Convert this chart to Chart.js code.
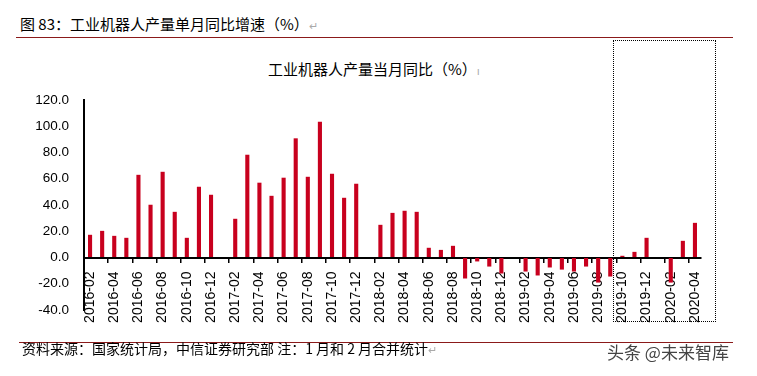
<!DOCTYPE html>
<html>
<head>
<meta charset="utf-8">
<script src="https://cdn.jsdelivr.net/npm/chart.js@4"></script>
<style>
  body { margin: 0; background: #fff; }
  #wrap { position: relative; width: 757px; height: 376px; overflow: hidden; font-family: "Noto Sans CJK SC", sans-serif; }
  #chartBox { position: absolute; left: 0; top: 0; width: 757px; height: 376px; }
  .txt { position: absolute; white-space: nowrap; color: #000; }
  .mark { color: #aaa; font-size: 11px; }
  .rule { position: absolute; height: 0; border-top: 1.5px solid #8b1a1a; }
</style>
</head>
<body>
<div id="wrap">
  <div class="txt" style="left:20px; top:13px; font-size:15px;">图 83：工业机器人产量单月同比增速（%）<span class="mark">↵</span></div>
  <div class="rule" style="left:16px; top:37px; width:717px;"></div>
  <div class="txt" style="left:268px; top:58px; font-size:15px;">工业机器人产量当月同比（%）<span class="mark">ı</span></div>
  <div style="position:absolute; left:613px; top:40px; width:101px; height:280px; border:1.5px dotted #000;"></div>
  <div id="chartBox"><canvas id="robotChart"></canvas></div>
  <div class="rule" style="left:19px; top:342px; width:714px;"></div>
  <div class="txt" style="left:22px; top:338px; font-size:14px;">资料来源：国家统计局，中信证券研究部 注：1 月和 2 月合并统计<span class="mark">↵</span></div>
  <div class="txt" style="left:607px; top:339px; font-size:17px; color:#444;">头条 @未来智库</div>
</div>
<script>
  // monthly categories, January merged into February (left empty)
  const months = [
    '2016-02','2016-03','2016-04','2016-05','2016-06','2016-07','2016-08','2016-09','2016-10','2016-11','2016-12',
    '2017-01','2017-02','2017-03','2017-04','2017-05','2017-06','2017-07','2017-08','2017-09','2017-10','2017-11','2017-12',
    '2018-01','2018-02','2018-03','2018-04','2018-05','2018-06','2018-07','2018-08','2018-09','2018-10','2018-11','2018-12',
    '2019-01','2019-02','2019-03','2019-04','2019-05','2019-06','2019-07','2019-08','2019-09','2019-10','2019-11','2019-12',
    '2020-01','2020-02','2020-03','2020-04'
  ];

  // 工业机器人产量当月同比 (%)
  const yoyGrowth = [
    17.3, 20.3, 16.5, 15.0, 63.0, 40.2, 65.3, 34.8, 15.0, 53.9, 47.8,
    null, 29.5, 78.3, 57.0, 47.0, 60.8, 90.8, 61.5, 103.5, 63.8, 45.5, 56.2,
    null, 24.9, 34.0, 35.6, 34.8, 7.4, 5.8, 8.9, -16.0, -3.0, -6.9, -12.2,
    null, -10.7, -13.7, -7.6, -9.2, -10.7, -6.9, -19.1, -14.5, 1.3, 4.3, 15.0,
    null, -19.1, 12.7, 26.4
  ];

  const yTicks = { min: -40, max: 120, step: 20 };

  const ctx = document.getElementById('robotChart').getContext('2d');
  const robotChart = new Chart(ctx, {
    type: 'bar',
    data: {
      labels: months,
      datasets: [{
        label: '工业机器人产量当月同比',
        data: yoyGrowth,
        backgroundColor: '#c8001e',
        barPercentage: 0.34,
        categoryPercentage: 1
      }]
    },
    options: {
      responsive: true,
      maintainAspectRatio: false,
      animation: false,
      layout: { padding: { left: 0, right: 56, top: 100, bottom: 66 } },
      scales: {
        x: {
          position: { y: 0 },
          offset: true,
          border: { display: true, color: '#000', width: 2 },
          grid: {
            display: true,
            drawOnChartArea: false,
            drawTicks: true,
            tickLength: 4,
            offset: true,
            lineWidth: 1.5,
            color: c => (c.index % 2 === 0 ? '#000' : 'rgba(0,0,0,0)')
          },
          ticks: {
            autoSkip: false,
            maxRotation: 90,
            minRotation: 90,
            padding: 10,
            color: '#000',
            font: { family: '"Liberation Sans", Arial, sans-serif', size: 14 },
            callback: function (v, i) { return i % 2 === 0 ? months[i] : ''; }
          }
        },
        y: {
          min: yTicks.min,
          max: yTicks.max,
          afterFit: s => { s.width = 84; },
          border: { display: true, color: '#000', width: 2 },
          grid: { display: true, drawOnChartArea: false, drawTicks: false },
          ticks: {
            stepSize: yTicks.step,
            padding: 15,
            color: '#000',
            font: { family: '"Liberation Sans", Arial, sans-serif', size: 13.5 },
            callback: v => v.toFixed(1)
          }
        }
      },
      plugins: {
        legend: { display: false },
        title: { display: false },
        tooltip: { enabled: false }
      }
    }
  });
</script>
</body>
</html>
